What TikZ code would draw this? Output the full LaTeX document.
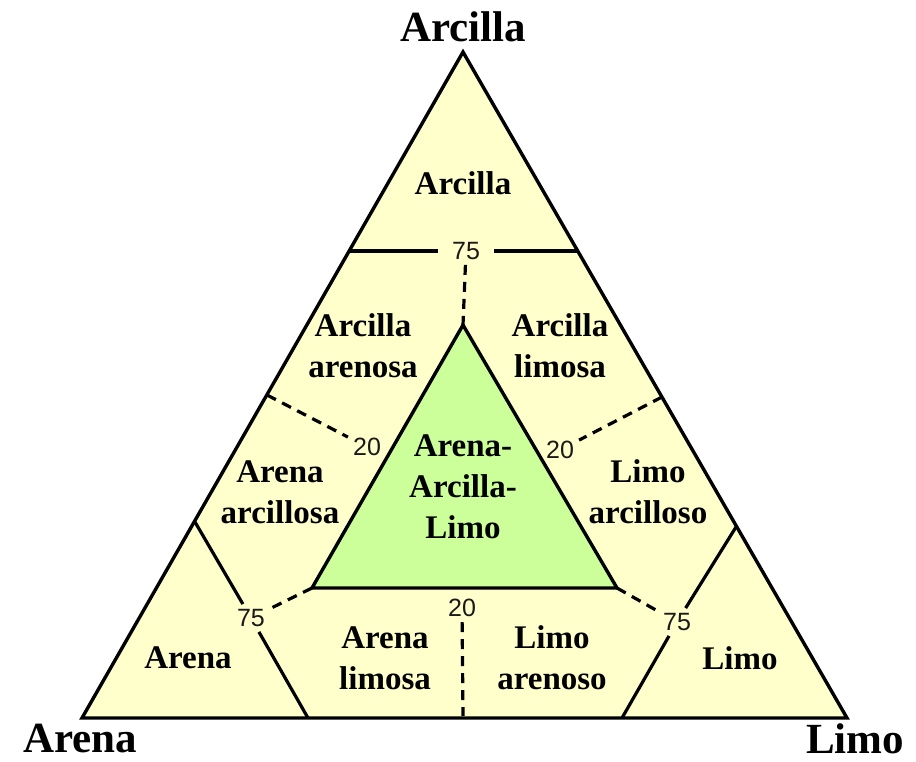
\documentclass[tikz,border=0pt]{standalone}
\usepackage{fontspec}
\setmainfont{Liberation Serif}
\newfontfamily\numfont{Liberation Sans}
\definecolor{soilyellow}{RGB}{255,255,204}
\definecolor{soilgreen}{RGB}{204,255,153}
\definecolor{numgray}{RGB}{25,25,25}
\begin{document}
\begin{tikzpicture}[x=1pt,y=-1pt,
  edge/.style={line width=3.4pt,line join=miter},
  divider/.style={line width=3.2pt},
  dashline/.style={line width=3.2pt,dash pattern=on 10pt off 7pt},
  region/.style={font=\fontsize{33}{41}\selectfont\bfseries,align=center,inner sep=0pt},
  title/.style={font=\fontsize{43}{50}\selectfont\bfseries,inner sep=0pt},
  num/.style={font=\fontsize{25}{28}\selectfont\numfont,text=numgray,inner sep=5pt}]
\useasboundingbox (0,0) rectangle (916,762);
% vertices
\coordinate (T) at (463,52);
\coordinate (BL) at (82,718);
\coordinate (BR) at (847,718);
\coordinate (iT) at (463,325);
\coordinate (iL) at (312,588);
\coordinate (iR) at (617,588);
% outer triangle
\fill[soilyellow] (T) -- (BL) -- (BR) -- cycle;
% inner triangle
\filldraw[fill=soilgreen,edge] (iT) -- (iL) -- (iR) -- cycle;
% divider end points
\coordinate (tl) at (349,251);
\coordinate (tr) at (577,251);
\coordinate (ll) at (195,522);
\coordinate (lb) at (308,718);
\coordinate (rr) at (736,527);
\coordinate (rb) at (622,718);
\coordinate (el) at (267,395);
\coordinate (er) at (662,397);
\coordinate (bm) at (463,716);
% number labels
\node[num,inner xsep=14pt] (n75t) at (466,251) {75};
\node[num] (n75l) at (251,618) {75};
\node[num] (n75r) at (677,622) {75};
\node[num] (n20l) at (367,447) {20};
\node[num] (n20r) at (560,450) {20};
\node[num] (n20b) at (462,608) {20};
% solid dividers
\draw[divider] (tl) -- (n75t);
\draw[divider] (n75t) -- (tr);
\draw[divider] (ll) -- (n75l);
\draw[divider] (n75l) -- (lb);
\draw[divider] (rr) -- (n75r);
\draw[divider] (n75r) -- (rb);
% dashed dividers
\draw[dashline] (n75t) -- (iT);
\draw[dashline] (el) -- (n20l);
\draw[dashline] (er) -- (n20r);
\draw[dashline] (n20b) -- (bm);
\draw[dashline] (iL) -- (n75l);
\draw[dashline] (iR) -- (n75r);
% outline
\draw[edge] (T) -- (BL) -- (BR) -- cycle;
% region labels
\node[region] (rA) at (463,183) {Arcilla};
\node[region] (rAa) at (363,346) {Arcilla\\arenosa};
\node[region] (rAl) at (560,346) {Arcilla\\limosa};
\node[region] (rEa) at (280,492) {Arena\\arcillosa};
\node[region] (rLa) at (648,492) {Limo\\arcilloso};
\node[region] (rC) at (463,487) {Arena-\\Arcilla-\\Limo};
\node[region] (rE) at (188,658) {Arena};
\node[region] (rEl) at (385,658) {Arena\\limosa};
\node[region] (rLe) at (552,658) {Limo\\arenoso};
\node[region] (rL) at (740,658) {Limo};
% titles
\node[title] (tA) at (463,27) {Arcilla};
\node[title] (tE) at (80,739) {Arena};
\node[title] (tL) at (855,739) {Limo};
\end{tikzpicture}
\end{document}
